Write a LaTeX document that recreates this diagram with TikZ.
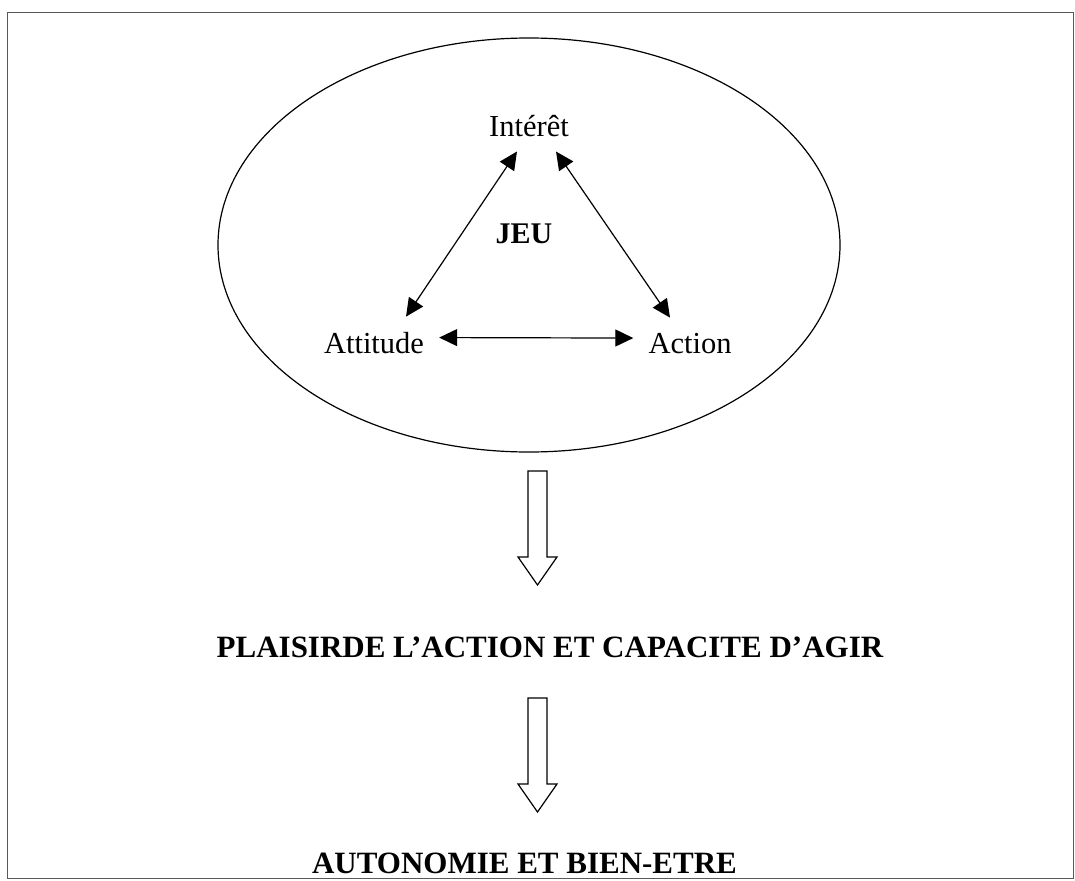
\documentclass[tikz,border=0pt]{standalone}
\usepackage{fontspec}
\setmainfont{Liberation Serif}
\usepackage{tikz}
\usetikzlibrary{shapes.geometric, arrows.meta, positioning, calc}

% hollow block arrow from a top point down to its tip
\newcommand{\hollowarrow}[2]{%
  \draw[hollow] ($(#1)+(-9.5,0)$) -- ($(#2)+(-9.5,-28)$) -- ($(#2)+(-19.5,-28)$) -- (#2)
    -- ($(#2)+(19.5,-28)$) -- ($(#2)+(9.5,-28)$) -- ($(#1)+(9.5,0)$) -- cycle;}

\begin{document}
\begin{tikzpicture}[x=1pt, y=-1pt, >={Triangle[length=18pt,width=17pt]}]
        % Define styles
        \tikzstyle{pageframe} = [draw=black!65, line width=0.8pt]
        \tikzstyle{zone} = [ellipse, draw=black, line width=1.2pt, minimum width=622pt, minimum height=414pt]
        \tikzstyle{pole} = [inner sep=15pt, anchor=base, font=\fontsize{30.5}{36}\selectfont]
        \tikzstyle{heading} = [inner sep=0pt, anchor=base, font=\fontsize{31}{36}\selectfont\bfseries]
        \tikzstyle{link} = [line width=1.2pt, <->]
        \tikzstyle{hollow} = [draw=black, line width=1.2pt, line join=miter, fill=white]

        \useasboundingbox (0,0) rectangle (1075,880);
        \draw[pageframe] (7,12) rectangle (1073,878);

        % The game
        \node (jeuzone) [zone] at (529,245) {};
        \node (interet) [pole] at (529,136) {Intérêt};
        \node (jeu) [pole, inner sep=0pt, font=\fontsize{30}{36}\selectfont\bfseries] at (524,243) {JEU};
        \node (attitude) [pole] at (374,353) {Attitude};
        \node (action) [pole] at (690,353) {Action};

        % Outcomes
        \node (plaisir) [heading] at (550,657) {PLAISIRDE L’ACTION ET CAPACITE D’AGIR};
        \node (autonomie) [heading] at (524.5,873) {AUTONOMIE ET BIEN-ETRE};

        \coordinate (arrowtopA) at (537.5,471);
        \coordinate (arrowtipA) at (537.5,585);
        \coordinate (arrowtopB) at (537.5,698);
        \coordinate (arrowtipB) at (537.5,812);

        % Arrows
        \draw [link] ([xshift=-12pt]interet.south) -- ([xshift=32pt]attitude.north);
        \draw [link] ([xshift=27pt]interet.south) -- ([xshift=-20pt]action.north);
        \draw [link] ([yshift=5pt]attitude.east) -- ([yshift=5pt]action.west);
        \hollowarrow{arrowtopA}{arrowtipA}
        \hollowarrow{arrowtopB}{arrowtipB}
    \end{tikzpicture}
\end{document}
